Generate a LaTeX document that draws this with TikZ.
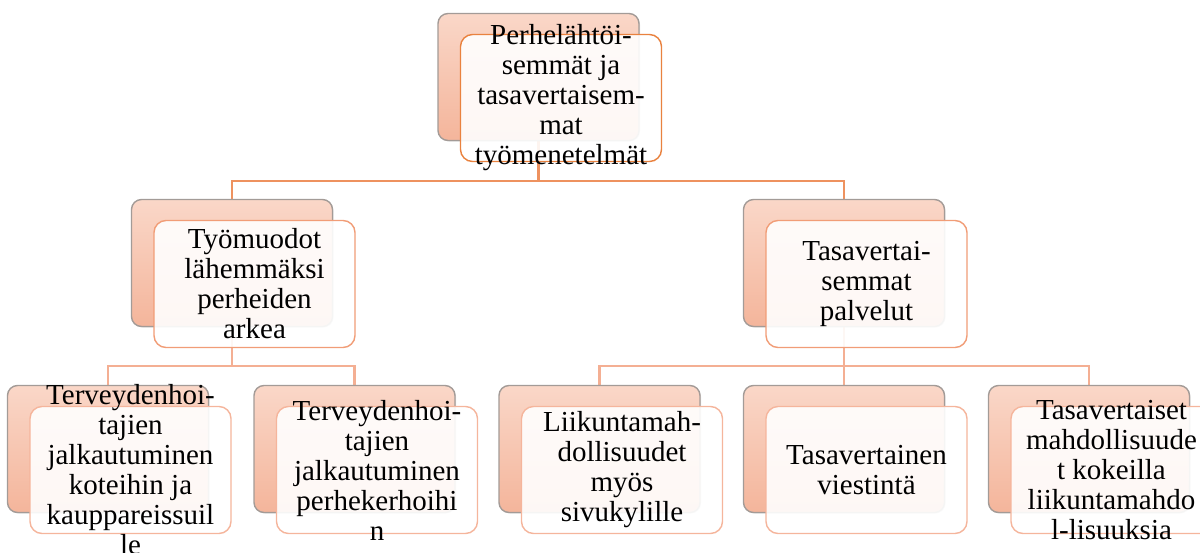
\documentclass[tikz,border=0pt]{standalone}
\usepackage{fontspec}
\setmainfont{Liberation Serif}
\usetikzlibrary{shadows,backgrounds}

\definecolor{backlight}{HTML}{FAD7C8}
\definecolor{backdark}{HTML}{F4B59B}
\definecolor{backedge}{HTML}{A39B97}
\definecolor{edgeA}{HTML}{E9823F}
\definecolor{edgeB}{HTML}{F19D77}
\definecolor{edgeC}{HTML}{F5B59C}
\definecolor{linkA}{HTML}{EE925F}
\definecolor{linkB}{HTML}{F4AF93}

\begin{document}
\begin{tikzpicture}[x=1pt,y=-1pt,
  backbox/.style={draw=backedge, line width=1.4pt, rounded corners=10pt,
    minimum width=201pt, minimum height=127pt, inner sep=0pt,
    top color=backlight, bottom color=backdark,
    drop shadow={shadow xshift=1pt, shadow yshift=-1pt, opacity=0.25}},
  frontbox/.style={rounded corners=12pt, minimum width=201pt,
    minimum height=127pt, inner sep=0pt, fill=white, fill opacity=0.9,
    line width=1.4pt},
  topfront/.style={frontbox, draw=edgeA},
  midfront/.style={frontbox, draw=edgeB},
  lowfront/.style={frontbox, draw=edgeC},
  boxtext/.style={align=center, inner sep=0pt,
    font=\fontsize{29}{30}\selectfont},
  linktop/.style={draw=linkA, line width=2.8pt},
  linkmid/.style={draw=linkB, line width=2.8pt},
]
\useasboundingbox (0,0) rectangle (1200,552);

% top level
\node[backbox]  (tb) at (538.5,77) {};
\node[topfront] (tf) at (561,98) {};
\node[boxtext]  (tt) at (tf) {Perhelähtöi-\\semmät ja\\tasavertaisem-\\mat\\työmenetelmät};

% second level
\node[backbox]  (m1b) at (232,263) {};
\node[midfront] (m1f) at (254.5,284) {};
\node[boxtext]  (m1t) at (m1f) {Työmuodot\\lähemmäksi\\perheiden\\arkea};

\node[backbox]  (m2b) at (844,263) {};
\node[midfront] (m2f) at (866.5,284) {};
\node[boxtext]  (m2t) at (m2f) {Tasavertai-\\semmat\\palvelut};

% third level
\node[backbox]  (b1b) at (108,449) {};
\node[lowfront] (b1f) at (130.5,470) {};
\node[boxtext]  (b1t) at (b1f) {Terveydenhoi-\\tajien\\jalkautuminen\\koteihin ja\\kauppareissuil\\le};

\node[backbox]  (b2b) at (354.5,449) {};
\node[lowfront] (b2f) at (377,470) {};
\node[boxtext]  (b2t) at (b2f) {Terveydenhoi-\\tajien\\jalkautuminen\\perhekerhoihi\\n};

\node[backbox]  (b3b) at (599.5,449) {};
\node[lowfront] (b3f) at (622,470) {};
\node[boxtext]  (b3t) at (b3f) {Liikuntamah-\\dollisuudet\\myös\\sivukylille};

\node[backbox]  (b4b) at (844,449) {};
\node[lowfront] (b4f) at (866.5,470) {};
\node[boxtext]  (b4t) at (b4f) {Tasavertainen\\viestintä};

\node[backbox]  (b5b) at (1089,449) {};
\node[lowfront] (b5f) at (1111.5,470) {};
\node[boxtext]  (b5t) at (b5f) {Tasavertaiset\\mahdollisuude\\t kokeilla\\liikuntamahdo\\l-lisuuksia};

% junctions of the connector bars
\coordinate (j0) at (538.5,181);
\coordinate (j1) at (232,366);
\coordinate (j2) at (844,366);

\begin{scope}[on background layer]
  \draw[linktop] (tb.south) |- (j0) -| (m1b.north);
  \draw[linktop] (j0) -| (m2b.north);
  \draw[linkmid] (m1b.south) |- (j1) -| (b1b.north);
  \draw[linkmid] (j1) -| (b2b.north);
  \draw[linkmid] (m2b.south) |- (j2) -| (b3b.north);
  \draw[linkmid] (j2) -- (b4b.north);
  \draw[linkmid] (j2) -| (b5b.north);
\end{scope}
\end{tikzpicture}
\end{document}
